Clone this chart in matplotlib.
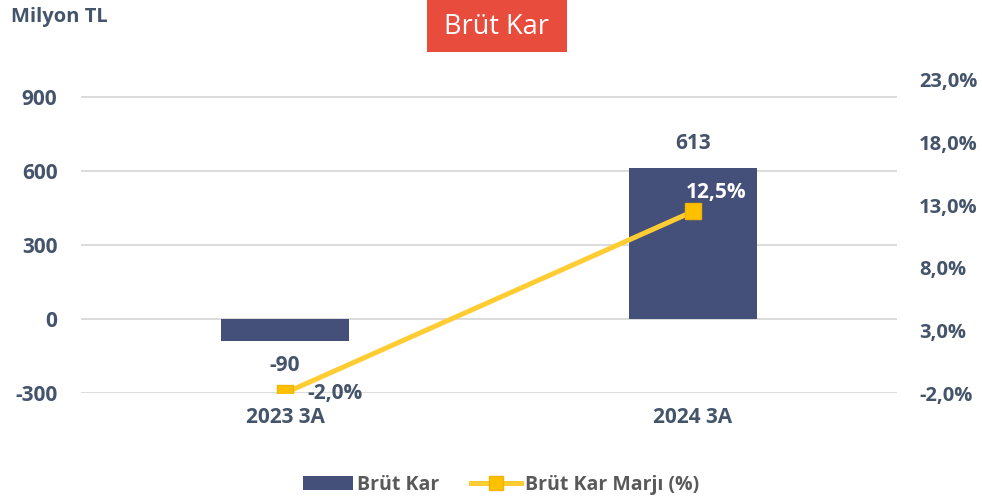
import numpy as np
import matplotlib
matplotlib.use('Agg')
import matplotlib.pyplot as plt
from matplotlib.patches import Patch, Rectangle
from matplotlib.lines import Line2D

plt.rcParams['font.family'] = ['Open Sans', 'DejaVu Sans']

# data
categories = ['2023 3A', '2024 3A']
brut_kar = [-90, 613]
marj = [-2.0, 12.5]
left_ticks = [-300, 0, 300, 600, 900]
right_ticks = [-2, 3, 8, 13, 18, 23]

txt = '#44546a'
bar_col = '#444f7a'
line_col = '#ffcd33'
mark_col = '#ffc000'
fs = 15

fig = plt.figure(figsize=(9.82, 5.03), dpi=100)
ax = fig.add_axes([81/982, (503-393)/503, (897-81)/982, (393-80)/503])
ax2 = ax.twinx()

x = np.arange(len(categories))
ax.bar(x, brut_kar, width=0.314, color=bar_col, zorder=2)
ax.set_xlim(-0.5, 1.5)
ax.set_ylim(-300, 970)
ax.set_yticks(left_ticks)
ax.set_yticklabels([str(v) for v in left_ticks])
ax.yaxis.grid(True, color='#d9d9d9', linewidth=1.3, zorder=0)
ax.set_axisbelow(True)
ax.set_xticks(x)
ax.set_xticklabels(categories)
for s in ax.spines.values():
    s.set_visible(False)
for s in ax2.spines.values():
    s.set_visible(False)
ax.tick_params(length=0, labelsize=fs, labelcolor=txt, pad=17)
ax.tick_params(axis='x', pad=10)
for lab in ax.get_xticklabels() + ax.get_yticklabels():
    lab.set_fontweight('bold')

ax2.plot(x, marj, color=line_col, linewidth=3.6, marker='s', markersize=12,
         markerfacecolor=mark_col, markeredgecolor='#f0b400', zorder=3)
ax2.set_ylim(-2, 23)
ax2.set_yticks(right_ticks)
ax2.set_yticklabels([f'{v:.1f}%'.replace('.', ',') for v in right_ticks])
ax2.tick_params(length=0, labelsize=14.5, labelcolor=txt, pad=16)
for lab in ax2.get_yticklabels():
    lab.set_fontweight('bold')

# data labels
ax.text(x[0], brut_kar[0] - 57, f'{brut_kar[0]}', ha='center', va='top',
        fontsize=fs, fontweight='bold', color=txt)
ax.text(x[1], brut_kar[1] + 56, f'{brut_kar[1]}', ha='center', va='bottom',
        fontsize=fs, fontweight='bold', color=txt)
ax2.text(x[0] + 0.055, marj[0] - 0.05, f'{marj[0]:.1f}%'.replace('.', ','), ha='left',
         va='center', fontsize=fs, fontweight='bold', color=txt)
ax2.text(x[1] + 0.057, marj[1] + 1.5, f'{marj[1]:.1f}%'.replace('.', ','),
         ha='center', va='center', fontsize=fs, fontweight='bold', color='white')

# title box
fig.patches.append(Rectangle((427/982, 1 - 52/503), 140/982, 52/503,
                             transform=fig.transFigure, facecolor='#e84c3d',
                             edgecolor='none'))
fig.text(497/982, 1 - 27/503, 'Brüt Kar', ha='center', va='center', fontsize=19.5,
         color='white')
fig.text(11/982, 1 - 17/503, 'Milyon TL', ha='left', va='center', fontsize=14.5,
         fontweight='bold', color=txt)

handles = [Patch(facecolor=bar_col, label='Brüt Kar'),
           Line2D([0], [0], color=line_col, linewidth=3.6, marker='s', markersize=10,
                  markerfacecolor=mark_col, markeredgecolor='#f0b400',
                  label='Brüt Kar Marjı (%)')]
leg = fig.legend(handles=handles, loc='center', bbox_to_anchor=(501/982, 1 - 485/503),
                 ncol=2, frameon=False, fontsize=14, handlelength=2.6,
                 handleheight=0.7, columnspacing=1.6, handletextpad=0.2)
for t in leg.get_texts():
    t.set_color('#595959')
    t.set_fontweight('bold')

fig.savefig('out.png', dpi=100)
